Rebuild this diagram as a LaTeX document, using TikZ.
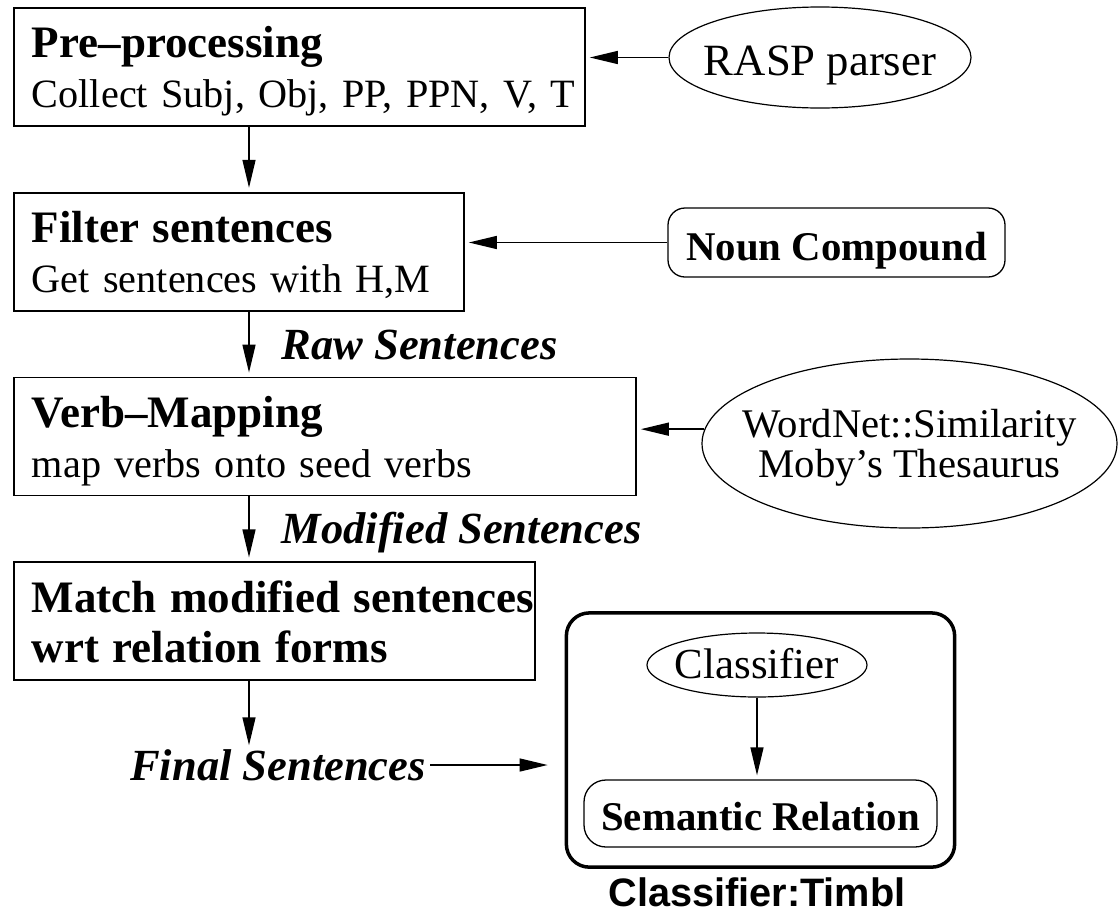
\documentclass[tikz,border=0pt]{standalone}
\usepackage{fontspec}
\setmainfont{Liberation Serif}
\newfontfamily\timblfont{Liberation Sans}
\usetikzlibrary{arrows.meta,positioning,shapes.geometric,fit}

\newcommand{\stagetitle}[1]{\mbox{\fontsize{45pt}{50pt}\selectfont\bfseries #1}}
\newcommand{\stagenote}[1]{\mbox{#1}}

\begin{document}
\begin{tikzpicture}[x=1pt,y=-1pt,->,>={Triangle[length=28pt,width=13pt]},shorten >=4pt,
  line width=1.4pt,node distance=65pt,
  stage/.style={rectangle,draw,line width=1.8pt,anchor=north west,align=left,
    inner xsep=18pt,inner ysep=10pt,text height=40pt,text depth=58pt,
    font=\fontsize{40.2pt}{50pt}\selectfont},
  source/.style={ellipse,draw,line width=1.2pt,inner xsep=-60pt,inner ysep=-10pt,align=center},
  token/.style={rectangle,rounded corners=17pt,draw,line width=1.3pt,inner sep=0pt,
    text height=35pt,text depth=0pt,font=\fontsize{40.8pt}{48pt}\selectfont\bfseries},
  flowlabel/.style={inner xsep=4pt,inner ysep=0pt,text height=30pt,text depth=0pt,
    font=\fontsize{44.5pt}{50pt}\selectfont\bfseries\itshape},
  clusterlabel/.style={anchor=base,inner sep=0pt,
    font=\timblfont\fontsize{39.7pt}{45pt}\selectfont\bfseries}]

 \path[use as bounding box,fill=white,-] (0,0) rectangle (1119,916);

 % pipeline
 \node[stage,text width=535pt] (pre) at (13,7)
   {\stagetitle{Pre--processing}\\ \stagenote{Collect Subj, Obj, PP, PPN, V, T}};
 \node[stage,text width=414pt,below=of pre.south west,anchor=north west] (filter)
   {\stagetitle{Filter sentences}\\ \stagenote{Get sentences with H,M}};
 \node[stage,text width=586pt,below=of filter.south west,anchor=north west] (verbmap)
   {\stagetitle{Verb--Mapping}\\ \stagenote{map verbs onto seed verbs}};
 \node[stage,text width=485pt,below=of verbmap.south west,anchor=north west] (match)
   {\stagetitle{Match modified sentences}\\ \stagetitle{wrt relation forms}};
 \node[flowlabel,anchor=base] (final) at (278,780) {Final Sentences};
 \coordinate (col) at (249,0);

 % resources
 \node[source,minimum width=302pt,minimum height=101pt,text height=35pt,text depth=0pt,
   font=\fontsize{44.7pt}{50pt}\selectfont] (rasp) at (820,57.5) {RASP parser};
 \node[token,minimum width=337pt,minimum height=69pt] (noun) at (836.5,242.5) {Noun Compound};
 \node[source,minimum width=415pt,minimum height=169pt,text height=70pt,text depth=3pt,
   font=\fontsize{40.7pt}{40pt}\selectfont] (wordnet) at (909.5,443.5)
   {WordNet::Similarity\\Moby's Thesaurus};

 % classifier cluster
 \node[source,minimum width=220pt,minimum height=64pt,text height=29pt,text depth=3pt,
   font=\fontsize{42.8pt}{48pt}\selectfont] (classifier) at (757,665) {Classifier};
 \node[token,rounded corners=22pt,minimum width=353pt,minimum height=67pt,
   text height=33pt] (semantic) at (760.5,813.5) {Semantic Relation};
 \node[draw,rounded corners=23pt,line width=3.5pt,inner xsep=17pt,inner ysep=19.5pt,
   fit=(classifier)(semantic)] (cluster) {};
 \path (cluster.south -| classifier.south) ++(0,38) node[clusterlabel] (timbl) {Classifier:Timbl};

 \path
    (pre.south -| col)     edge (filter.north -| col)
    (filter.south -| col)  edge node[flowlabel,right=28pt] {Raw Sentences} (verbmap.north -| col)
    (verbmap.south -| col) edge node[flowlabel,right=28pt] {Modified Sentences} (match.north -| col)
    (match.south -| col)   edge (final.north -| col)
    (rasp)                 edge (rasp -| pre.east)
    (noun)                 edge (noun -| filter.east)
    (wordnet.176)          edge (wordnet.176 -| verbmap.east)
    (final)                edge [shorten >=17pt] (final -| cluster.west)
    (classifier)           edge (classifier |- semantic.north);

\end{tikzpicture}
\end{document}
